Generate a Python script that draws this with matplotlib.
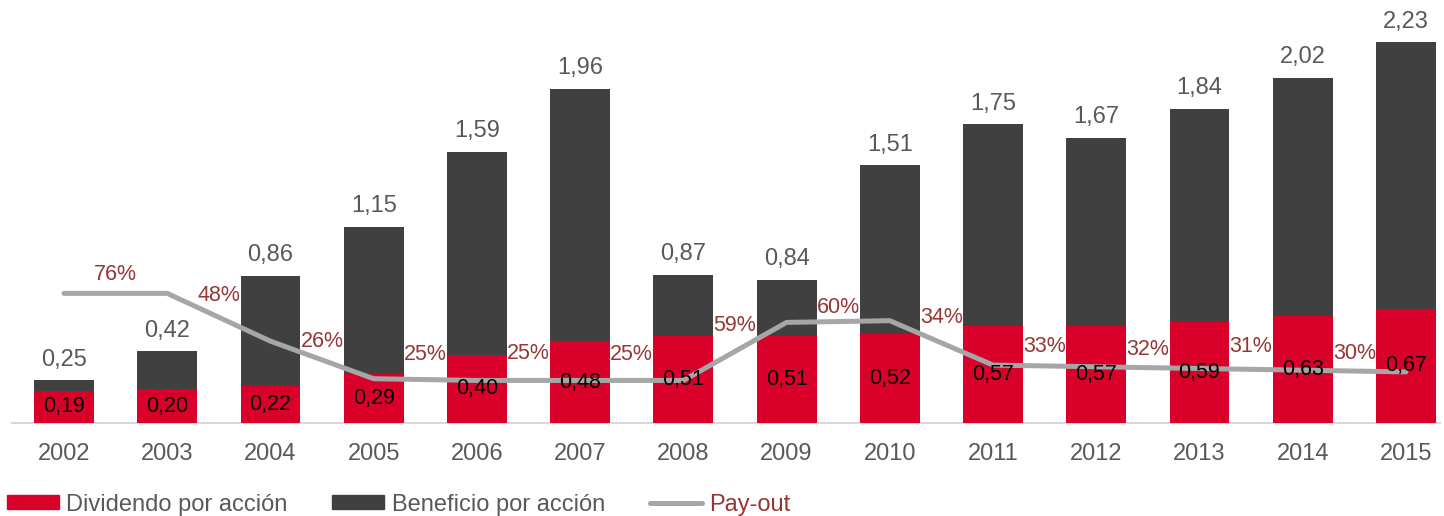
import numpy as np
import matplotlib
matplotlib.use('Agg')
import matplotlib.pyplot as plt
from matplotlib.patches import Patch
from matplotlib.lines import Line2D

years = ['2002', '2003', '2004', '2005', '2006', '2007', '2008',
         '2009', '2010', '2011', '2012', '2013', '2014', '2015']
beneficio = [0.25, 0.42, 0.86, 1.15, 1.59, 1.96, 0.87,
             0.84, 1.51, 1.75, 1.67, 1.84, 2.02, 2.23]
dividendo = [0.19, 0.20, 0.22, 0.29, 0.40, 0.48, 0.51,
             0.51, 0.52, 0.57, 0.57, 0.59, 0.63, 0.67]
payout = [76, 76, 48, 26, 25, 25, 25, 59, 60, 34, 33, 32, 31, 30]
payout_labels = ['76%', '48%', '26%', '25%', '25%', '25%', '59%',
                 '60%', '34%', '33%', '32%', '31%', '30%']
payout_label_y = [87, 75, 48, 40, 41, 40, 57, 68, 62, 45, 43, 45, 41]

RED = '#D9002A'
DARK = '#404040'
LINE = '#A6A6A6'
PCT = '#953735'
GREY_TXT = '#595959'

plt.rcParams['font.family'] = ['Liberation Sans', 'DejaVu Sans']


def main():
    fig = plt.figure(figsize=(14.44, 5.16), dpi=100)
    ax = fig.add_axes([0.0086, 0.18, 0.9886, 0.794])
    x = np.arange(len(years))
    w = 0.58

    ax.bar(x, beneficio, w, color=DARK, zorder=2)
    ax.bar(x, dividendo, w, color=RED, zorder=3)

    # pay-out drawn on the same scale: 1% = 0.01 units
    pct = np.array(payout) / 100.0
    ax.plot(x, pct, color=LINE, lw=3.6, solid_capstyle='round',
            solid_joinstyle='round', zorder=4)
    for i, (lab, ly) in enumerate(zip(payout_labels, payout_label_y)):
        ax.text(i + 0.5, ly / 100.0, lab, ha='center', va='center',
                fontsize=15.5, color=PCT, zorder=5)

    for xi, b in zip(x, beneficio):
        ax.annotate(f'{b:.2f}'.replace('.', ','), (xi, b), xytext=(0, 15),
                    textcoords='offset points', ha='center', va='center',
                    fontsize=17, color=GREY_TXT)
    for xi, d in zip(x, dividendo):
        ax.text(xi, d / 2, f'{d:.2f}'.replace('.', ','), ha='center',
                va='center', fontsize=15.5, color='black', zorder=6)

    ax.set_xlim(-0.5, 13.33)
    ax.set_ylim(0, 2.4)
    ax.set_xticks(x)
    ax.set_xticklabels(years, fontsize=17, color=GREY_TXT)
    ax.tick_params(axis='x', length=0, pad=14)
    ax.set_yticks([])
    for s in ['top', 'right', 'left']:
        ax.spines[s].set_visible(False)
    ax.spines['bottom'].set_color('#D9D9D9')
    ax.spines['bottom'].set_linewidth(1.5)

    handles = [Patch(color=RED), Patch(color=DARK),
               Line2D([0], [0], color=LINE, lw=3.6, solid_capstyle='round')]
    leg = fig.legend(handles, ['Dividendo por acción', 'Beneficio por acción', 'Pay-out'],
                     loc='center left', bbox_to_anchor=(0.005, 0.022), ncol=3,
                     frameon=False, fontsize=17, handlelength=2.2,
                     handleheight=0.55, handletextpad=0.3, columnspacing=1.9,
                     borderpad=0, borderaxespad=0)
    cols = [GREY_TXT, GREY_TXT, PCT]
    for t, c in zip(leg.get_texts(), cols):
        t.set_color(c)

    fig.savefig('out.png', dpi=100)


if __name__ == '__main__':
    main()
